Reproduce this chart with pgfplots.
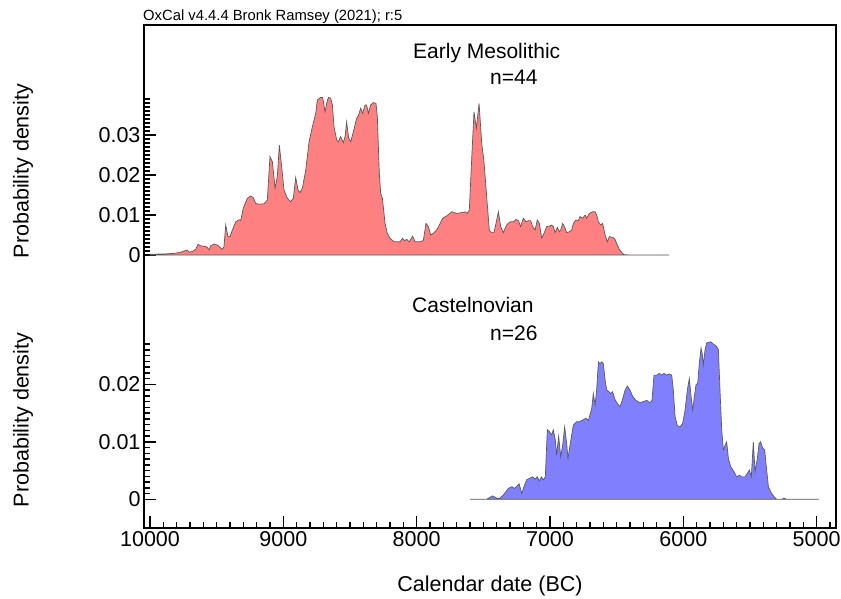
\documentclass[border=0pt]{standalone}
\usepackage{pgfplots}
\usepackage{pgfplotstable}
\pgfplotsset{compat=1.18}
\usepackage{fontspec}
\setmainfont{Liberation Sans}
\definecolor{redfill}{RGB}{255,128,128}
\definecolor{bluefill}{RGB}{128,128,255}
\definecolor{outline}{RGB}{90,90,90}

\pgfplotstableread{
year dens
10000 0
9995 0.0002
9895 0.00025
9820 0.0004
9770 0.0007
9732 0.0011
9720 0.00125
9707 0.0007
9682 0.0009
9657 0.0014
9640 0.0027
9620 0.0023
9582 0.0021
9570 0.0019
9557 0.00125
9545 0.0023
9520 0.00275
9495 0.0025
9475 0.0019
9457 0.0014
9445 0.0021
9432 0.0075
9415 0.0046
9400 0.0046
9382 0.00625
9357 0.0083
9332 0.0088
9320 0.0086
9300 0.0117
9270 0.0142
9245 0.01475
9227 0.0144
9207 0.0129
9182 0.0127
9145 0.0128
9120 0.01375
9100 0.0246
9082 0.0233
9062 0.0167
9045 0.0196
9030 0.0275
9015 0.0229
8995 0.01625
8970 0.0142
8945 0.0133
8925 0.0142
8907 0.0194
8890 0.01625
8875 0.0156
8857 0.0167
8832 0.02125
8807 0.0283
8782 0.0321
8757 0.0354
8745 0.03875
8720 0.0394
8705 0.0394
8687 0.0358
8675 0.0379
8662 0.0394
8645 0.0392
8632 0.0375
8620 0.0321
8600 0.02875
8587 0.0283
8570 0.0296
8550 0.0281
8537 0.0296
8525 0.0333
8510 0.0292
8495 0.0283
8475 0.0308
8450 0.0342
8437 0.0348
8420 0.0367
8405 0.0354
8387 0.0375
8375 0.0375
8362 0.0354
8345 0.0375
8325 0.0381
8305 0.0379
8295 0.0346
8280 0.0204
8270 0.0154
8257 0.0142
8237 0.0079
8220 0.0054
8200 0.0042
8170 0.0033
8125 0.0033
8105 0.0042
8092 0.0036
8075 0.0039
8055 0.0033
8030 0.00475
8012 0.0033
7975 0.0033
7950 0.0036
7930 0.0079
7912 0.0071
7895 0.005
7875 0.0054
7850 0.00625
7830 0.0075
7805 0.0092
7775 0.00975
7737 0.0108
7700 0.0104
7662 0.0106
7637 0.0108
7620 0.0104
7605 0.01125
7587 0.0242
7570 0.0358
7552 0.0317
7532 0.0379
7512 0.0279
7495 0.0233
7475 0.0146
7455 0.0062
7440 0.0056
7420 0.0056
7405 0.0079
7387 0.0108
7370 0.0071
7350 0.0056
7325 0.0075
7300 0.0083
7275 0.0083
7255 0.0089
7237 0.0086
7220 0.0071
7200 0.0092
7180 0.0083
7162 0.0086
7145 0.0086
7130 0.0071
7112 0.00625
7095 0.00875
7080 0.0079
7062 0.0042
7045 0.0054
7025 0.0071
7005 0.0072
6987 0.0075
6975 0.0071
6962 0.0056
6945 0.0069
6930 0.0058
6920 0.00625
6905 0.0079
6892 0.0071
6875 0.0056
6855 0.0058
6837 0.00625
6825 0.0079
6805 0.00875
6787 0.0086
6775 0.0096
6755 0.0092
6737 0.01
6725 0.0092
6705 0.0104
6680 0.0108
6662 0.0108
6650 0.01
6637 0.0083
6620 0.0075
6605 0.0079
6587 0.005
6570 0.0033
6555 0.0046
6530 0.0044
6512 0.0039
6495 0.0025
6480 0.0014
6462 0.0006
6445 0.0001
6400 0
6107 0
}\earlymeso

\pgfplotstableread{
year dens
7600 0
7475 0
7450 0.00035
7430 0.0006
7400 0.0002
7375 0.0002
7350 0.00075
7312 0.0019
7287 0.0022
7267 0.0019
7250 0.0023
7232 0.0027
7212 0.001
7195 0.0022
7175 0.0034
7150 0.0037
7130 0.0039
7112 0.0035
7095 0.0039
7080 0.0032
7065 0.0039
7050 0.0034
7035 0.0039
7020 0.0121
7005 0.0118
6987 0.0112
6975 0.0121
6960 0.0103
6950 0.0077
6935 0.011
6920 0.0074
6905 0.0094
6890 0.0126
6875 0.0097
6865 0.0071
6850 0.0094
6825 0.0129
6800 0.0135
6780 0.0135
6755 0.0138
6730 0.0141
6712 0.0137
6700 0.0147
6687 0.0158
6675 0.0184
6662 0.0164
6650 0.019
6637 0.0239
6625 0.0236
6612 0.0239
6600 0.0236
6587 0.0208
6575 0.019
6557 0.0187
6545 0.0184
6530 0.0187
6512 0.0173
6495 0.0167
6475 0.0161
6457 0.0173
6437 0.019
6420 0.0197
6400 0.019
6380 0.0179
6355 0.0172
6325 0.0168
6300 0.017
6275 0.0172
6250 0.0168
6235 0.0172
6220 0.0216
6200 0.0216
6180 0.0219
6162 0.0216
6145 0.0219
6125 0.0216
6105 0.0218
6087 0.0216
6075 0.019
6062 0.0144
6045 0.0128
6025 0.0126
6005 0.0132
5987 0.0155
5970 0.019
5955 0.021
5942 0.0179
5930 0.0155
5917 0.0179
5905 0.0199
5892 0.0202
5880 0.0237
5867 0.0263
5857 0.0251
5850 0.0234
5837 0.026
5825 0.0272
5795 0.0274
5775 0.027
5750 0.0266
5737 0.026
5725 0.019
5712 0.0121
5700 0.0086
5687 0.0094
5675 0.01
5662 0.0071
5645 0.0057
5620 0.0048
5600 0.0039
5580 0.0042
5562 0.0039
5537 0.0039
5520 0.0045
5505 0.0051
5490 0.0039
5475 0.01
5462 0.0048
5445 0.0071
5432 0.0097
5420 0.01
5405 0.0089
5390 0.0086
5375 0.0051
5362 0.0022
5350 0.0016
5337 0.001
5320 0.00046
5300 0
5262 0
5245 0.0002
5225 0
4983 0
}\castel

\pgfplotsset{
  panel/.style={
    at={(144pt,70pt)}, anchor=south west, scale only axis,
    width=692pt, height=503pt,
    xmin=4855, xmax=10045, x dir=reverse,
    scaled x ticks=false, scaled y ticks=false,
    tick align=inside,
    major tick length=12pt, minor tick length=6pt,
    every tick/.style={black, line width=1.4pt},
    tick label style={font=\fontsize{21.5}{24}\selectfont},
    /pgf/number format/assume math mode=true,
  },
  densaxis/.style={
    axis line style={draw=none},
    xtick=\empty, ytick pos=left,
    clip=false,
  }
}

\begin{document}
\begin{tikzpicture}
\useasboundingbox (0pt,0pt) rectangle (841pt,598pt);

% upper panel
\begin{axis}[panel, densaxis,
  ymin=-0.06825, ymax=0.0575,
  ytick={0,0.01,0.02,0.03}, yticklabels={0,0.01,0.02,0.03},
  minor ytick={0.001,0.002,0.003,0.004,0.005,0.006,0.007,0.008,0.009,0.011,0.012,0.013,0.014,0.015,0.016,0.017,0.018,0.019,0.021,0.022,0.023,0.024,0.025,0.026,0.027,0.028,0.029,0.031,0.032,0.033,0.034,0.035,0.036,0.037,0.038,0.039}]
\addplot[fill=redfill, draw=outline, line width=0.7pt] table[x=year,y=dens]{\earlymeso} \closedcycle;
\end{axis}

% lower panel
\begin{axis}[panel, densaxis,
  ymin=-0.00499, ymax=0.08249,
  ytick={0,0.01,0.02}, yticklabels={0,0.01,0.02},
  minor ytick={0.001,0.002,0.003,0.004,0.005,0.006,0.007,0.008,0.009,0.011,0.012,0.013,0.014,0.015,0.016,0.017,0.018,0.019,0.021,0.022,0.023,0.024,0.025,0.026,0.027}]
\addplot[fill=bluefill, draw=outline, line width=0.7pt] table[x=year,y=dens]{\castel} \closedcycle;
\end{axis}

% frame and x axis
\begin{axis}[panel,
  ymin=0, ymax=1, ytick=\empty,
  xtick={5000,6000,7000,8000,9000,10000},
  xticklabels={5000,6000,7000,8000,9000,10000},
  minor xtick={4900,5100,5200,5300,5400,5500,5600,5700,5800,5900,6100,6200,6300,6400,6500,6600,6700,6800,6900,7100,7200,7300,7400,7500,7600,7700,7800,7900,8100,8200,8300,8400,8500,8600,8700,8800,8900,9100,9200,9300,9400,9500,9600,9700,9800,9900},
  xtick pos=left,
  axis line style={line width=1.6pt}]
\end{axis}

\node[anchor=base west, inner sep=0pt, font=\fontsize{14.8}{17}\selectfont] at (143pt,577pt) {OxCal v4.4.4 Bronk Ramsey (2021); r:5};
\node[anchor=base west, inner sep=0pt, font=\fontsize{21}{24}\selectfont] at (413pt,539pt) {Early Mesolithic};
\node[anchor=base west, inner sep=0pt, font=\fontsize{21}{24}\selectfont] at (490pt,513pt) {n=44};
\node[anchor=base west, inner sep=0pt, font=\fontsize{21}{24}\selectfont] at (412pt,285pt) {Castelnovian};
\node[anchor=base west, inner sep=0pt, font=\fontsize{21}{24}\selectfont] at (490pt,258pt) {n=26};
\node[anchor=base, inner sep=0pt, font=\fontsize{21.5}{24}\selectfont] at (490pt,6.3pt) {Calendar date (BC)};
\node[anchor=base, rotate=90, inner sep=0pt, font=\fontsize{21.5}{24}\selectfont] at (28.5pt,427pt) {Probability density};
\node[anchor=base, rotate=90, inner sep=0pt, font=\fontsize{21.5}{24}\selectfont] at (28.5pt,178pt) {Probability density};
\end{tikzpicture}
\end{document}
